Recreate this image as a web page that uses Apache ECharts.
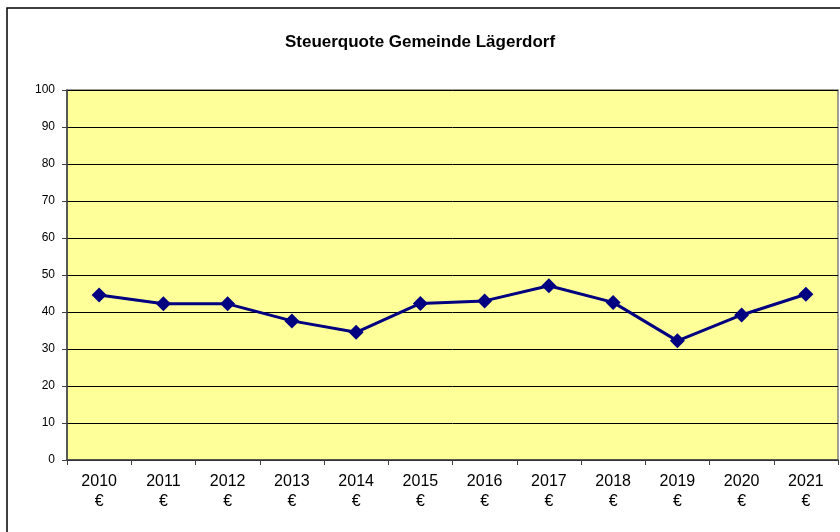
<!DOCTYPE html>
<html>
<head>
    <meta charset="utf-8">
    <title>Steuerquote Gemeinde Lägerdorf</title>
    <script src="https://cdn.jsdelivr.net/npm/echarts@6/dist/echarts.min.js"></script>
    <style>
        body { margin: 0; background: #fff; }
    </style>
</head>
<body>
    <div id="main" style="width: 840px;height:532px;"></div>

    <script type="text/javascript">
        // years shown on the x axis
        var years = ['2010', '2011', '2012', '2013', '2014', '2015', '2016', '2017', '2018', '2019', '2020', '2021'];
        // tax ratio values
        var quote = [44.6, 42.2, 42.2, 37.6, 34.5, 42.3, 43.0, 47.1, 42.6, 32.2, 39.2, 44.8];
        var yTicks = [0, 10, 20, 30, 40, 50, 60, 70, 80, 90, 100];

        var myChart = echarts.init(document.getElementById('main'));

        var option = {
            animation: false,
            textStyle: { fontFamily: 'Liberation Sans, Arial, sans-serif' },
            // outer chart frame
            graphic: [{
                type: 'rect',
                shape: { x: 7, y: 8, width: 900, height: 600 },
                style: { fill: 'none', stroke: '#000', lineWidth: 1.5 },
                silent: true
            }],
            title: {
                text: 'Steuerquote Gemeinde Lägerdorf',
                left: 'center',
                top: 29,
                textStyle: { fontSize: 17, fontWeight: 'bold', color: '#000' }
            },
            grid: {
                left: 67,
                right: 2,
                top: 90,
                bottom: 72,
                show: true,
                backgroundColor: '#FFFF99',
                borderColor: '#808080',
                borderWidth: 1.5
            },
            xAxis: {
                type: 'category',
                data: years,
                boundaryGap: true,
                axisLine: { lineStyle: { color: '#404040', width: 1.5 } },
                axisTick: { show: true, length: 5, lineStyle: { color: '#404040' } },
                axisLabel: {
                    color: '#000',
                    fontSize: 16,
                    lineHeight: 20,
                    margin: 12,
                    formatter: function (v) { return v + '\n€'; }
                }
            },
            yAxis: {
                type: 'value',
                min: yTicks[0],
                max: yTicks[yTicks.length - 1],
                interval: 10,
                axisLine: { show: true, lineStyle: { color: '#404040', width: 1.5 } },
                axisTick: { show: true, length: 5, lineStyle: { color: '#404040' } },
                splitLine: { lineStyle: { color: '#000', width: 1 } },
                axisLabel: { color: '#000', fontSize: 12, margin: 12 }
            },
            series: [{
                name: 'Steuerquote',
                type: 'line',
                data: quote,
                symbol: 'diamond',
                symbolSize: 15,
                lineStyle: { color: '#000080', width: 3 },
                itemStyle: { color: '#000080' }
            }]
        };

        myChart.setOption(option);
    </script>
</body>
</html>
